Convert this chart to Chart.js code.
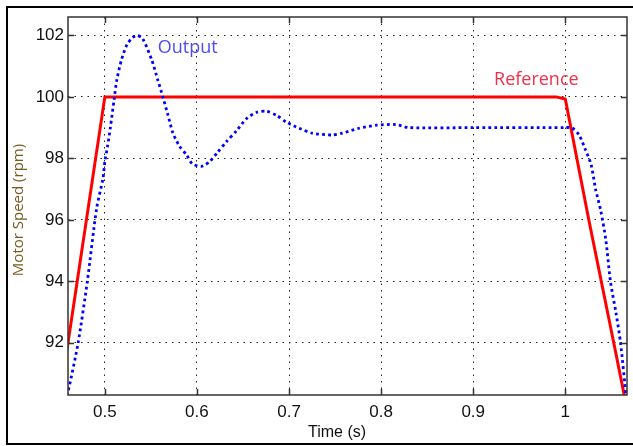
<!DOCTYPE html>
<html>
<head>
<meta charset="utf-8">
<script src="https://cdn.jsdelivr.net/npm/chart.js@4"></script>
<style>
    html, body { margin: 0; padding: 0; background: #fff; }
    #wrap { position: relative; width: 633px; height: 446px; overflow: hidden; }
    #frame { position: absolute; left: 6px; top: 6px; width: 640px; height: 435px; border: 2px solid #000; pointer-events: none; }
    canvas { position: absolute; left: 0; top: 0; }
</style>
</head>
<body>
<div id="wrap">
    <canvas id="speedChart" width="633" height="446"></canvas>
    <div id="frame"></div>
</div>
<script>
// time axis (s)
const outTime = [0.455, 0.46, 0.471, 0.481, 0.491, 0.498, 0.5, 0.503, 0.506, 0.51, 0.513, 0.518, 0.524, 0.53, 0.535,
    0.541, 0.551, 0.5575, 0.563, 0.568, 0.574, 0.581, 0.589, 0.595, 0.605, 0.614, 0.6225, 0.632, 0.643, 0.654,
    0.665, 0.6756, 0.6865, 0.697, 0.711, 0.725, 0.747, 0.758, 0.776, 0.795, 0.816, 0.83, 0.9, 1.0, 1.007,
    1.015, 1.022, 1.028, 1.033, 1.0385, 1.044, 1.049, 1.055, 1.06, 1.066, 1.07];
// motor speed output (rpm)
const outSpeed = [89.9, 90.4, 92.0, 94.0, 96.36, 97.35, 97.9, 98.4, 99.0, 99.9, 100.55, 101.2, 101.7, 101.93, 102.0,
    101.9, 101.2, 100.55, 100.0, 99.47, 98.82, 98.4, 98.1, 97.82, 97.74, 97.9, 98.2, 98.54, 98.9, 99.3,
    99.5, 99.53, 99.4, 99.18, 98.98, 98.82, 98.76, 98.82, 98.98, 99.08, 99.1, 99.0, 99.0, 99.0, 99.0,
    98.76, 98.27, 97.8, 96.98, 96.3, 95.35, 94.0, 92.98, 92.0, 90.3, 89.5];

const refTime = [0.45, 0.5, 0.99, 1.0, 1.0255, 1.0526, 1.07];
const refSpeed = [90.0, 100.0, 100.0, 99.93, 96.0, 92.0, 89.4];

const xTicks = [0.5, 0.6, 0.7, 0.8, 0.9, 1.0];
const xTickLabels = ['0.5', '0.6', '0.7', '0.8', '0.9', '1'];
const yTicks = [92, 94, 96, 98, 100, 102];

// text labels placed in data units
const noteText = ['Output', 'Reference'];
const noteX = [0.5575, 0.9226];
const noteY = [101.58, 100.54];
const noteColor = ['#4d4df0', '#f0304a'];

function toPoints(xs, ys) {
    return xs.map((x, i) => ({ x: x, y: ys[i] }));
}

// box, inward tick marks, axis titles and notes
const matlabAxes = {
    id: 'matlabAxes',
    afterDatasetsDraw(chart) {
        const ctx = chart.ctx;
        const a = chart.chartArea;
        const sx = chart.scales.x;
        const sy = chart.scales.y;
        ctx.save();
        ctx.strokeStyle = '#333';
        ctx.lineWidth = 1.5;
        ctx.setLineDash([]);
        ctx.strokeRect(a.left, a.top, a.right - a.left, a.bottom - a.top);
        ctx.beginPath();
        xTicks.forEach(v => {
            const px = Math.round(sx.getPixelForValue(v)) + 0.5;
            ctx.moveTo(px, a.bottom); ctx.lineTo(px, a.bottom - 6);
            ctx.moveTo(px, a.top); ctx.lineTo(px, a.top + 6);
        });
        yTicks.forEach(v => {
            const py = Math.round(sy.getPixelForValue(v)) + 0.5;
            ctx.moveTo(a.left, py); ctx.lineTo(a.left + 6, py);
            ctx.moveTo(a.right, py); ctx.lineTo(a.right - 6, py);
        });
        ctx.stroke();

        // notes
        ctx.font = '18px "Open Sans"';
        ctx.textBaseline = 'middle';
        ctx.textAlign = 'left';
        noteText.forEach((t, i) => {
            ctx.fillStyle = noteColor[i];
            ctx.fillText(t, sx.getPixelForValue(noteX[i]), sy.getPixelForValue(noteY[i]));
        });

        // axis titles
        ctx.fillStyle = '#111';
        ctx.textAlign = 'center';
        ctx.font = '16px "Liberation Sans"';
        ctx.fillText('Time (s)', 337, 433);
        ctx.translate(19, 210);
        ctx.rotate(-Math.PI / 2);
        ctx.fillStyle = '#7a5a1e';
        ctx.font = '15px "Open Sans"';
        ctx.fillText('Motor Speed (rpm)', 0, 0);
        ctx.restore();
    }
};

const ctx = document.getElementById('speedChart').getContext('2d');
new Chart(ctx, {
    type: 'line',
    data: {
        datasets: [{
            label: 'Output',
            data: toPoints(outTime, outSpeed),
            borderColor: '#0000ff',
            borderWidth: 2.8,
            borderDash: [2.8, 3.2],
            pointRadius: 0,
            tension: 0.25,
            fill: false
        }, {
            label: 'Reference',
            data: toPoints(refTime, refSpeed),
            borderColor: '#ff0000',
            borderWidth: 3,
            pointRadius: 0,
            tension: 0,
            fill: false
        }]
    },
    options: {
        responsive: false,
        animation: false,
        layout: { padding: { left: 0, top: 17, right: 6, bottom: 0 } },
        plugins: {
            legend: { display: false },
            tooltip: { enabled: false }
        },
        scales: {
            x: {
                type: 'linear',
                min: 0.46,
                max: 1.067,
                afterBuildTicks: s => { s.ticks = xTicks.map(v => ({ value: v })); },
                afterFit: s => { s.height = 51; },
                ticks: {
                    callback: (v, i) => xTickLabels[i],
                    font: { family: 'Liberation Sans', size: 17 },
                    color: '#111',
                    padding: 7,
                    maxRotation: 0,
                    autoSkip: false
                },
                grid: { color: '#222', lineWidth: 1, drawTicks: false, tickLength: 0 },
                border: { display: false, dash: [1.5, 5] }
            },
            y: {
                min: 90.3,
                max: 102.6,
                afterBuildTicks: s => { s.ticks = yTicks.map(v => ({ value: v })); },
                afterFit: s => { s.width = 68; },
                ticks: {
                    font: { family: 'Liberation Sans', size: 17 },
                    color: '#111',
                    padding: 4,
                    autoSkip: false
                },
                grid: { color: '#222', lineWidth: 1, drawTicks: false, tickLength: 0 },
                border: { display: false, dash: [1.5, 5] }
            }
        }
    },
    plugins: [matlabAxes]
});
</script>
</body>
</html>
